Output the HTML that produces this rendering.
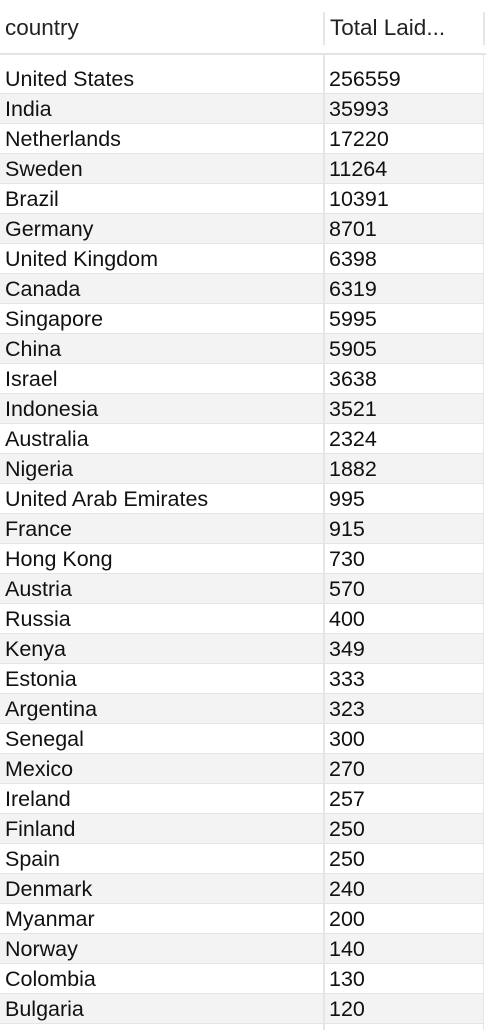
<!DOCTYPE html>
<html><head><meta charset="utf-8"><style>
body{margin:0;width:486px;height:1030px;overflow:hidden;background:#fff;font-family:"Liberation Sans",Arial,sans-serif;position:relative;color:#111}
.h{position:absolute;top:16px;font-size:22.5px;color:#222;line-height:24px}
.row{position:absolute;left:0;width:484px;height:29px;border-bottom:1px solid #e4e4e4}
.row span{position:absolute;top:3px;font-size:21.5px;line-height:24px}
.vd{position:absolute;width:2px;background:#e6e6e6}
</style></head><body>
<div class="h" style="left:5px">country</div>
<div class="vd" style="left:323px;top:12px;height:33px"></div>
<div class="h" style="left:330px">Total Laid...</div>
<div class="vd" style="left:483px;top:12px;height:33px"></div>
<div style="position:absolute;left:0;top:53px;width:486px;height:2px;background:#e4e4e4"></div>
<div id="rows"></div>
<div class="vd" style="left:323px;top:55px;height:975px"></div>
<div class="vd" style="left:483px;top:55px;height:975px;width:1px"></div>
<script>
const countries=["United States","India","Netherlands","Sweden","Brazil","Germany","United Kingdom","Canada","Singapore","China","Israel","Indonesia","Australia","Nigeria","United Arab Emirates","France","Hong Kong","Austria","Russia","Kenya","Estonia","Argentina","Senegal","Mexico","Ireland","Finland","Spain","Denmark","Myanmar","Norway","Colombia","Bulgaria"];
const totals=[256559,35993,17220,11264,10391,8701,6398,6319,5995,5905,3638,3521,2324,1882,995,915,730,570,400,349,333,323,300,270,257,250,250,240,200,140,130,120];
const c=document.getElementById('rows');
countries.forEach((n,i)=>{
 const r=document.createElement('div');
 r.className='row';
 
 
 r.style.top=(64+30*i)+'px';
 r.style.background=i%2?'#f3f3f3':'#fff';
 const a=document.createElement('span');
 
 
 a.style.left='5px';a.textContent=n;
 const b=document.createElement('span');
 
 
 b.style.left='329px';b.textContent=totals[i];
 r.appendChild(a);r.appendChild(b);c.appendChild(r);
});
</script>
</body></html>
